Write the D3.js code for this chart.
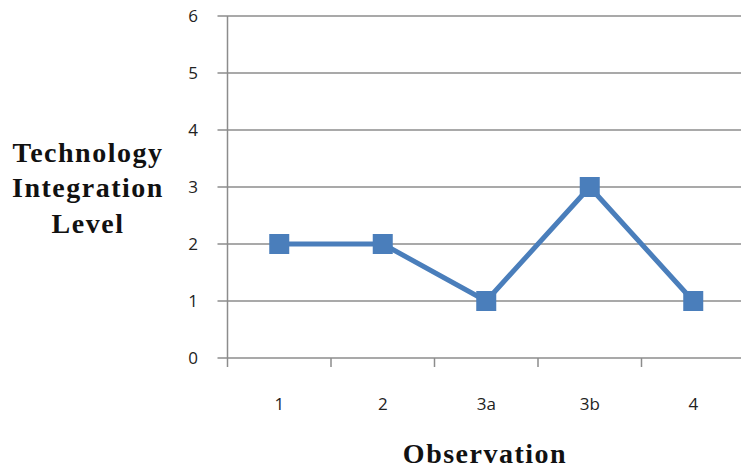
<!DOCTYPE html>
<html><head><meta charset="utf-8">
<script src="https://cdn.jsdelivr.net/npm/d3@7"></script>
<style>body{margin:0;background:#fff}svg{display:block}</style>
</head><body><svg id="c" width="741" height="474"></svg>
<script>
const categories = ["1","2","3a","3b","4"];
const values = [2,2,1,3,1];
const yTicks = [0,1,2,3,4,5,6];

(function(){
const svg = d3.select("#c");
const plotLeft = 227.5, plotTop = 16, plotBottom = 358, step = 103.5;
const x = d3.scaleBand().domain(categories).range([plotLeft, plotLeft + step*categories.length]);
const y = d3.scaleLinear().domain([0,6]).range([plotBottom, plotTop]);
const g = svg.append("g");

g.selectAll(".grid").data(yTicks).join("line")
  .attr("x1", plotLeft-10).attr("x2", 741).attr("y1", d=>y(d)).attr("y2", d=>y(d))
  .attr("stroke", "#8c8c8c").attr("stroke-width", 1.5);
g.append("line").attr("x1", plotLeft).attr("x2", plotLeft).attr("y1", plotTop).attr("y2", plotBottom)
  .attr("stroke", "#8c8c8c").attr("stroke-width", 1.5);
const bounds = categories.map(c=>x(c));
g.selectAll(".xt").data(bounds).join("line")
  .attr("x1", d=>d).attr("x2", d=>d).attr("y1", plotBottom).attr("y2", plotBottom+9)
  .attr("stroke", "#8c8c8c").attr("stroke-width", 1.5);
g.selectAll(".yl").data(yTicks).join("text")
  .attr("x", 198).attr("y", d=>y(d)).attr("dy","0.35em").attr("text-anchor","end")
  .attr("font-family","Open Sans, sans-serif").attr("font-size",17).attr("fill","#222")
  .text(d=>d);
g.selectAll(".xl").data(categories).join("text")
  .attr("x", d=>x(d)+x.bandwidth()/2).attr("y", 404).attr("dy","0.35em").attr("text-anchor","middle")
  .attr("font-family","Open Sans, sans-serif").attr("font-size",17).attr("fill","#222")
  .text(d=>d);
const line = d3.line().x((d,i)=>x(categories[i])+x.bandwidth()/2).y(d=>y(d));
g.append("path").datum(values).attr("d", line).attr("fill","none")
  .attr("stroke","#4a7ebb").attr("stroke-width",5).attr("stroke-linejoin","round");
g.selectAll(".m").data(values).join("rect")
  .attr("x",(d,i)=>x(categories[i])+x.bandwidth()/2-10).attr("y",d=>y(d)-10)
  .attr("width",20).attr("height",20).attr("fill","#4a7ebb");
const yt = svg.append("text").attr("text-anchor","middle")
  .attr("font-family","Liberation Serif, Times New Roman, serif").attr("font-weight","bold")
  .attr("font-size",28).attr("letter-spacing",1.5).attr("fill","#111");
["Technology","Integration","Level"].forEach((t,i)=>{
  yt.append("tspan").attr("x",88).attr("y",[162,197,233][i]).text(t);
});
svg.append("text").attr("x",485).attr("y",463).attr("text-anchor","middle")
  .attr("font-family","Liberation Serif, Times New Roman, serif").attr("font-weight","bold")
  .attr("font-size",28).attr("letter-spacing",1.5).attr("fill","#111").text("Observation");
})();
</script></body></html>
